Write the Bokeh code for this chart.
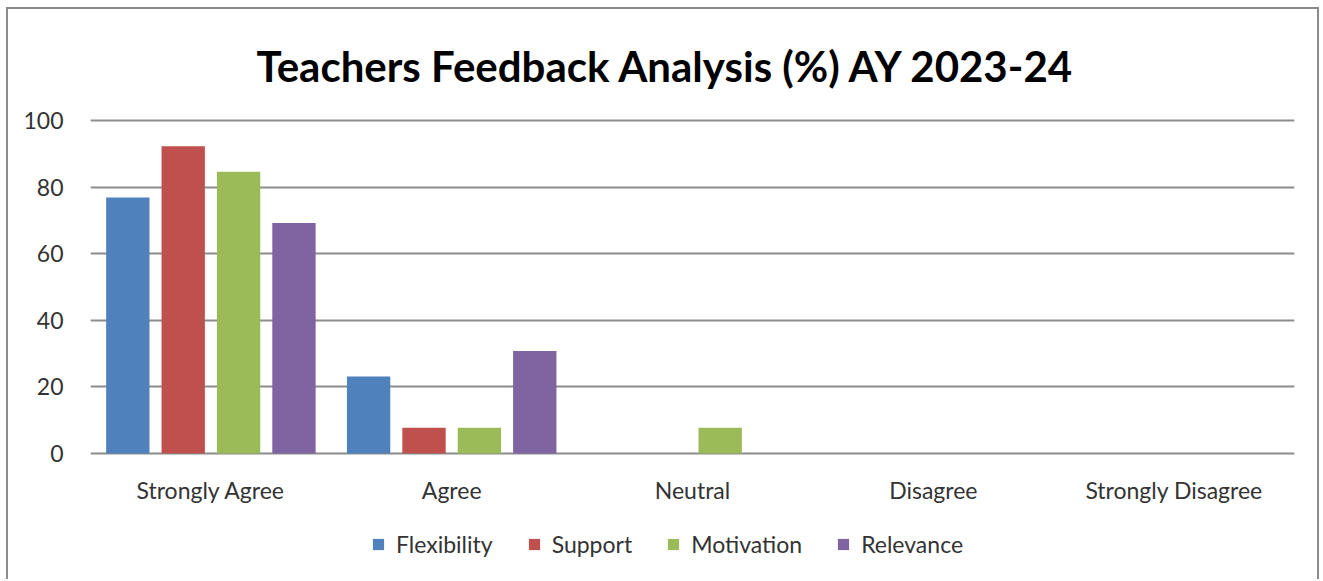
from bokeh.plotting import figure
from bokeh.models import FactorRange, Range1d, Legend, LegendItem, ColumnDataSource
from bokeh.core.properties import value
from bokeh.transform import dodge
from bokeh.embed import file_html
from bokeh.resources import INLINE

categories = ["Strongly Agree", "Agree", "Neutral", "Disagree", "Strongly Disagree"]
series = ["Flexibility", "Support", "Motivation", "Relevance"]
flexibility = [76.9, 23.1, 0, 0, 0]
support = [92.3, 7.7, 0, 0, 0]
motivation = [84.6, 7.7, 7.7, 0, 0]
relevance = [69.2, 30.8, 0, 0, 0]
y_ticks = [0, 20, 40, 60, 80, 100]

colors = ["#4F81BD", "#C0504D", "#9BBB59", "#8064A2"]
offsets = [-0.345, -0.115, 0.115, 0.345]
FONT = "Lato"
GRID = "#8c8c8c"
TEXT = "#333333"
LABEL_Y = -11.1  # vertical position of category labels (below the baseline)

source = ColumnDataSource(dict(cat=categories, Flexibility=flexibility, Support=support,
                               Motivation=motivation, Relevance=relevance))

p = figure(x_range=FactorRange(factors=categories, range_padding=0),
           y_range=Range1d(-37.24, 100.6),
           width=1313, height=572, output_backend="svg", toolbar_location=None,
           title="Teachers Feedback Analysis (%) AY 2023-24")
p.min_border_left = 82
p.min_border_right = 27
p.min_border_top = 109
p.min_border_bottom = 4
p.styles = {"position": "relative", "left": "6px", "top": "7px",
            "border-left": "2px solid #8a8a8a", "border-top": "2px solid #8a8a8a",
            "border-right": "2px solid #8a8a8a"}

p.title.align = "left"
p.title.offset = 166
p.title.standoff = 56
p.title.text_font = FONT
p.title.text_font_style = "bold"
p.title.text_font_size = "42px"
p.title.text_color = "#000000"

renderers = []
for name, col, off in zip(series, colors, offsets):
    r = p.vbar(x=dodge("cat", off, range=p.x_range), top=name, width=0.18, bottom=0,
               source=source, fill_color=col, line_color=None)
    renderers.append(r)

# category labels under the baseline
p.text(x=categories, y=[LABEL_Y] * len(categories), text=categories,
       text_align="center", text_baseline="middle", text_font=value(FONT),
       text_font_size="23px", text_color=TEXT)

p.outline_line_color = None
p.xgrid.grid_line_color = None
p.ygrid.ticker = y_ticks
p.ygrid.grid_line_color = GRID
p.ygrid.grid_line_width = 2
p.yaxis.ticker = y_ticks
p.yaxis.axis_line_color = None
p.yaxis.major_tick_line_color = None
p.yaxis.minor_tick_line_color = None
p.yaxis.major_label_text_font = FONT
p.yaxis.major_label_text_font_size = "23px"
p.yaxis.major_label_text_color = TEXT
p.yaxis.major_label_standoff = 21

p.xaxis.visible = False

legend = Legend(items=[LegendItem(label=n, renderers=[r]) for n, r in zip(series, renderers)],
                orientation="horizontal", location=(281, 19))
legend.glyph_width = 14
legend.glyph_height = 14
legend.label_standoff = 11
legend.spacing = 34
legend.padding = 0
legend.margin = 0
legend.border_line_color = None
legend.background_fill_alpha = 0
legend.label_text_font = FONT
legend.label_text_font_size = "23px"
legend.label_text_color = TEXT
legend.label_height = 20
p.add_layout(legend, "center")

open("out.html", "w").write(file_html(p, INLINE))
